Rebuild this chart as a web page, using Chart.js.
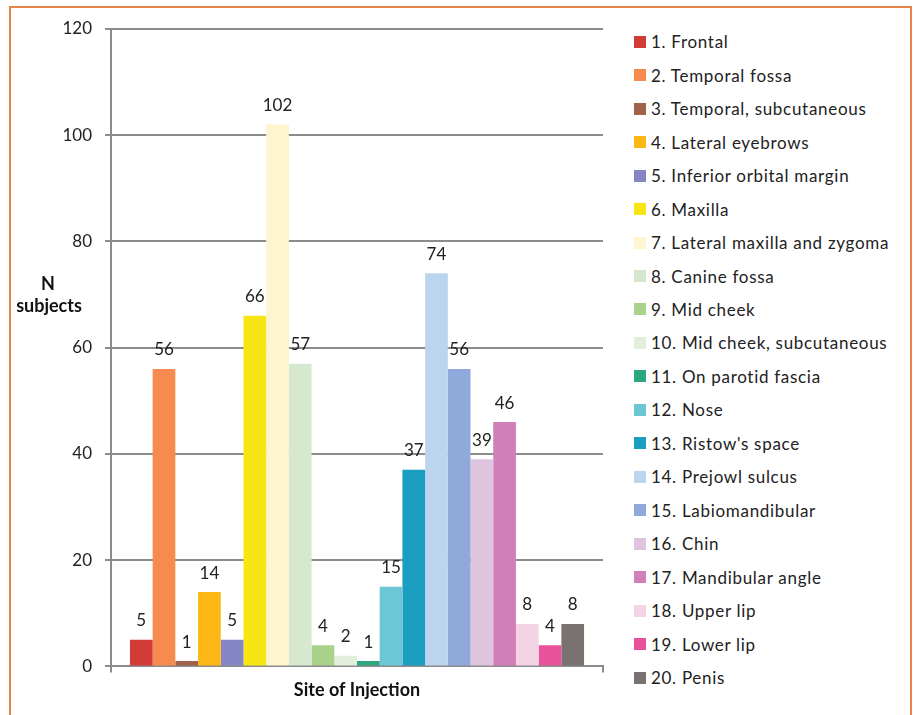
<!DOCTYPE html>
<html>
<head>
<meta charset="utf-8">
<script src="https://cdn.jsdelivr.net/npm/chart.js@4.4.0/dist/chart.umd.min.js"></script>
<style>
	html, body { margin: 0; padding: 0; background: #fff; }
	body { width: 913px; height: 715px; position: relative; overflow: hidden; font-family: Lato, sans-serif; }
	#frame { position: absolute; left: 9px; top: 6px; width: 899px; height: 720px; border: 2px solid #e8834a; box-sizing: content-box; }
	#chart { position: absolute; left: 0; top: 0; }
	#legend { position: absolute; left: 634px; top: 25px; }
</style>
</head>
<body>
<div id="frame"></div>
<canvas id="chart" width="620" height="715"></canvas>
<div id="legend"></div>
<script>
const sites = [
	'1. Frontal', '2. Temporal fossa', '3. Temporal, subcutaneous', '4. Lateral eyebrows',
	'5. Inferior orbital margin', '6. Maxilla', '7. Lateral maxilla and zygoma', '8. Canine fossa',
	'9. Mid cheek', '10. Mid cheek, subcutaneous', '11. On parotid fascia', '12. Nose',
	"13. Ristow's space", '14. Prejowl sulcus', '15. Labiomandibular', '16. Chin',
	'17. Mandibular angle', '18. Upper lip', '19. Lower lip', '20. Penis'
];
const subjects = [5, 56, 1, 14, 5, 66, 102, 57, 4, 2, 1, 15, 37, 74, 56, 39, 46, 8, 4, 8];
const siteColors = [
	'#d13d36', '#f68a4f', '#a0624a', '#fdb714', '#8585c4', '#f7e614', '#fcf5d0', '#d6e9cf',
	'#a9d38b', '#e3efdb', '#2ea77e', '#6cc7d4', '#1a9ec0', '#bcd5ee', '#8faada', '#dfc4e0',
	'#d07fb8', '#f4d3e5', '#e9529b', '#7a7270'
];
const yTicks = {min: 0, max: 120, step: 20};

// Legend built as html list on the right
const htmlLegendPlugin = {
	id: 'htmlLegend',
	afterUpdate(chart, args, options) {
		const box = document.getElementById(options.containerID);
		let ul = box.querySelector('ul');
		if (!ul) {
			ul = document.createElement('ul');
			ul.style.margin = 0;
			ul.style.padding = 0;
			ul.style.listStyle = 'none';
			box.appendChild(ul);
		}
		while (ul.firstChild) {
			ul.firstChild.remove();
		}
		chart.data.datasets.forEach(ds => {
			const li = document.createElement('li');
			li.style.display = 'flex';
			li.style.alignItems = 'center';
			li.style.height = '33.47px';

			const boxSpan = document.createElement('span');
			boxSpan.style.display = 'inline-block';
			boxSpan.style.width = '12px';
			boxSpan.style.height = '12px';
			boxSpan.style.marginRight = '5px';
			boxSpan.style.background = ds.backgroundColor;

			const text = document.createElement('span');
			text.style.fontSize = '17px';
			text.style.letterSpacing = '0.7px';
			text.style.color = '#222';
			text.textContent = ds.label;

			li.appendChild(boxSpan);
			li.appendChild(text);
			ul.appendChild(li);
		});
	}
};

// Numbers above the bars
const valueLabels = {
	id: 'valueLabels',
	afterDatasetsDraw(chart) {
		const ctx = chart.ctx;
		ctx.save();
		ctx.font = '17px Lato';
		ctx.fillStyle = '#222';
		ctx.textAlign = 'center';
		ctx.textBaseline = 'middle';
		chart.data.datasets.forEach((ds, i) => {
			const bar = chart.getDatasetMeta(i).data[0];
			ctx.fillText(String(ds.data[0]), bar.x, bar.y - 19);
		});
		ctx.restore();
	}
};

// Horizontal y axis caption
const yCaption = {
	id: 'yCaption',
	afterDraw(chart) {
		const ctx = chart.ctx;
		ctx.save();
		ctx.font = 'bold 18px Lato';
		ctx.fillStyle = '#111';
		ctx.textAlign = 'center';
		ctx.textBaseline = 'alphabetic';
		ctx.fillText('N', 48, 290);
		ctx.fillText('subjects', 49, 312);
		ctx.restore();
	}
};

new Chart(document.getElementById('chart'), {
	type: 'bar',
	data: {
		labels: [''],
		datasets: sites.map((s, i) => ({
			label: s,
			data: [subjects[i]],
			backgroundColor: siteColors[i],
			borderWidth: 0
		}))
	},
	options: {
		responsive: false,
		animation: false,
		layout: {padding: {left: 0, right: 17, top: 29, bottom: 10}},
		datasets: {bar: {categoryPercentage: 0.923, barPercentage: 1}},
		scales: {
			x: {
				grid: {display: true, drawOnChartArea: false, offset: true, tickLength: 6, color: '#8c8c8c', lineWidth: 2},
				border: {color: '#8c8c8c', width: 2},
				ticks: {display: false},
				title: {display: true, text: 'Site of Injection', color: '#111', font: {family: 'Lato', size: 18, weight: 'bold'}, padding: {top: 7, bottom: 4}}
			},
			y: {
				min: yTicks.min,
				max: yTicks.max,
				afterFit(scale) { scale.width = 111; },
				grid: {color: '#8c8c8c', lineWidth: 2, tickLength: 6},
				border: {color: '#8c8c8c', width: 2},
				ticks: {stepSize: yTicks.step, padding: 13, color: '#222', font: {family: 'Lato', size: 17}}
			}
		},
		plugins: {
			legend: {display: false},
			tooltip: {enabled: false},
			htmlLegend: {containerID: 'legend'}
		}
	},
	plugins: [htmlLegendPlugin, valueLabels, yCaption]
});
</script>
</body>
</html>
